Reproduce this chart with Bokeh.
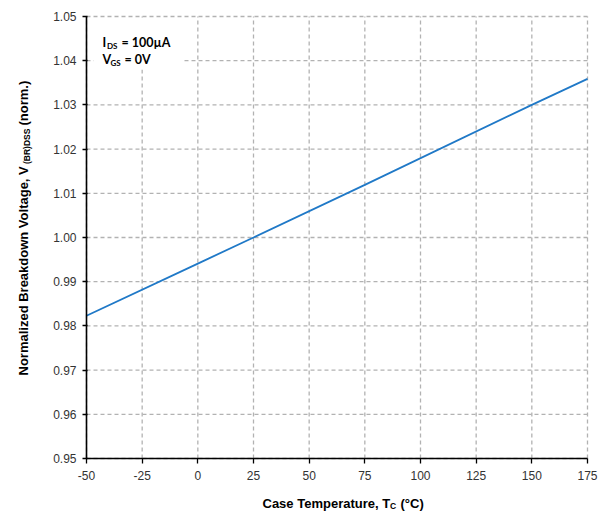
import math

from bokeh.embed import file_html
from bokeh.models import (BoxAnnotation, ColumnDataSource, FixedTicker, Label,
                          NumeralTickFormatter, Range1d)
from bokeh.plotting import figure
from bokeh.resources import INLINE

# Normalized breakdown voltage vs. case temperature
temperature_c = [-50, 0, 25, 75, 150, 175]
bvdss_norm = [0.9823, 0.9941, 1.0000, 1.0119, 1.0300, 1.0359]

x_ticks = [-50, -25, 0, 25, 50, 75, 100, 125, 150, 175]
y_ticks = [0.95, 0.96, 0.97, 0.98, 0.99, 1.00, 1.01, 1.02, 1.03, 1.04, 1.05]

X0, X1 = -50, 175
Y0, Y1 = 0.95, 1.05

# Canvas size and where the plotting area sits inside it (pixels)
W, H = 603, 512
LEFT, RIGHT, TOP, BOTTOM = 86, 16, 16, 54
AREA_W = W - LEFT - RIGHT
AREA_H = H - TOP - BOTTOM


def dx(px):
    """Canvas pixel column -> data x."""
    return X0 + (px - LEFT) * (X1 - X0) / AREA_W


def dy(py):
    """Canvas pixel row -> data y."""
    return Y0 + (H - BOTTOM - py) * (Y1 - Y0) / AREA_H


# The frame spans the whole canvas; axes are pinned at the data edges so
# the titles can sit in the margins without being clipped.
p = figure(width=W, height=H, output_backend="svg", toolbar_location=None,
           x_range=Range1d(dx(0), dx(W)), y_range=Range1d(dy(H), dy(0)),
           min_border=0)
p.outline_line_color = None
p.background_fill_color = "white"
p.grid.visible = False

p.xaxis.fixed_location = Y0
p.yaxis.fixed_location = X0
p.xaxis.bounds = (X0, X1)
p.yaxis.bounds = (Y0, Y1)

for ax in (p.xaxis[0], p.yaxis[0]):
    ax.axis_line_color = "black"
    ax.axis_line_width = 1.6
    ax.major_tick_line_color = "black"
    ax.major_tick_line_width = 1.3
    ax.minor_tick_line_color = None
    ax.major_label_text_font = "Liberation Sans"
    ax.major_label_text_font_size = "12px"
    ax.major_label_text_color = "#333333"
    ax.axis_label = None

p.xaxis.ticker = FixedTicker(ticks=x_ticks)
p.xaxis.major_label_overrides = {t: str(t) for t in x_ticks}
p.yaxis.ticker = FixedTicker(ticks=y_ticks)
p.yaxis.formatter = NumeralTickFormatter(format="0.00")
p.xaxis.major_tick_out = 5
p.xaxis.major_tick_in = 0
p.xaxis.major_label_standoff = 7
p.yaxis.major_tick_out = 4
p.yaxis.major_tick_in = 1
p.yaxis.major_label_standoff = 6

# Dashed grid limited to the data area
grid_style = dict(line_color="#b2b2b2", line_width=1.3, line_dash="4 3")
p.segment(x0=x_ticks, x1=x_ticks, y0=[Y0] * len(x_ticks), y1=[Y1] * len(x_ticks),
          **grid_style)
p.segment(x0=[X0] * len(y_ticks), x1=[X1] * len(y_ticks), y0=y_ticks, y1=y_ticks,
          **grid_style)

src = ColumnDataSource(dict(t=temperature_c, v=bvdss_norm))
p.line("t", "v", source=src, line_color="#2079c7", line_width=1.8)

# Test-condition box
p.add_layout(BoxAnnotation(left=dx(93), right=dx(183), top=dy(18), bottom=dy(69),
                           fill_color="white", fill_alpha=1.0, line_color=None))


def text(px, py, s, size, angle=0.0, font="Liberation Sans"):
    p.add_layout(Label(x=dx(px), y=dy(py), text=s, text_font=font,
                       text_font_size=size, text_font_style="bold",
                       text_color="black", angle=angle,
                       text_align="left", text_baseline="alphabetic"))


# Condition text
text(102, 42, "I", "12.5px", font="Lato")
text(106.5, 45, "DS", "8px", font="Lato")
text(121, 42, "= 100µA", "12.5px", font="Lato")
text(102, 59, "V", "12.5px", font="Lato")
text(110, 62, "GS", "8px", font="Lato")
text(124, 59, "= 0V", "12.5px", font="Lato")

# X axis title
text(262, 503, "Case Temperature, T", "13px")
text(389.5, 505, "C", "8.5px")
text(400, 503, "(°C)", "13px")

# Y axis title (rotated, reads bottom to top)
up = math.pi / 2
text(23, 375, "Normalized Breakdown Voltage, V", "13px", angle=up)
text(26, 163.5, "(BR)DSS", "8.5px", angle=up)
text(23, 125, "(norm.)", "13px", angle=up)

open("out.html", "w").write(file_html(p, INLINE))
